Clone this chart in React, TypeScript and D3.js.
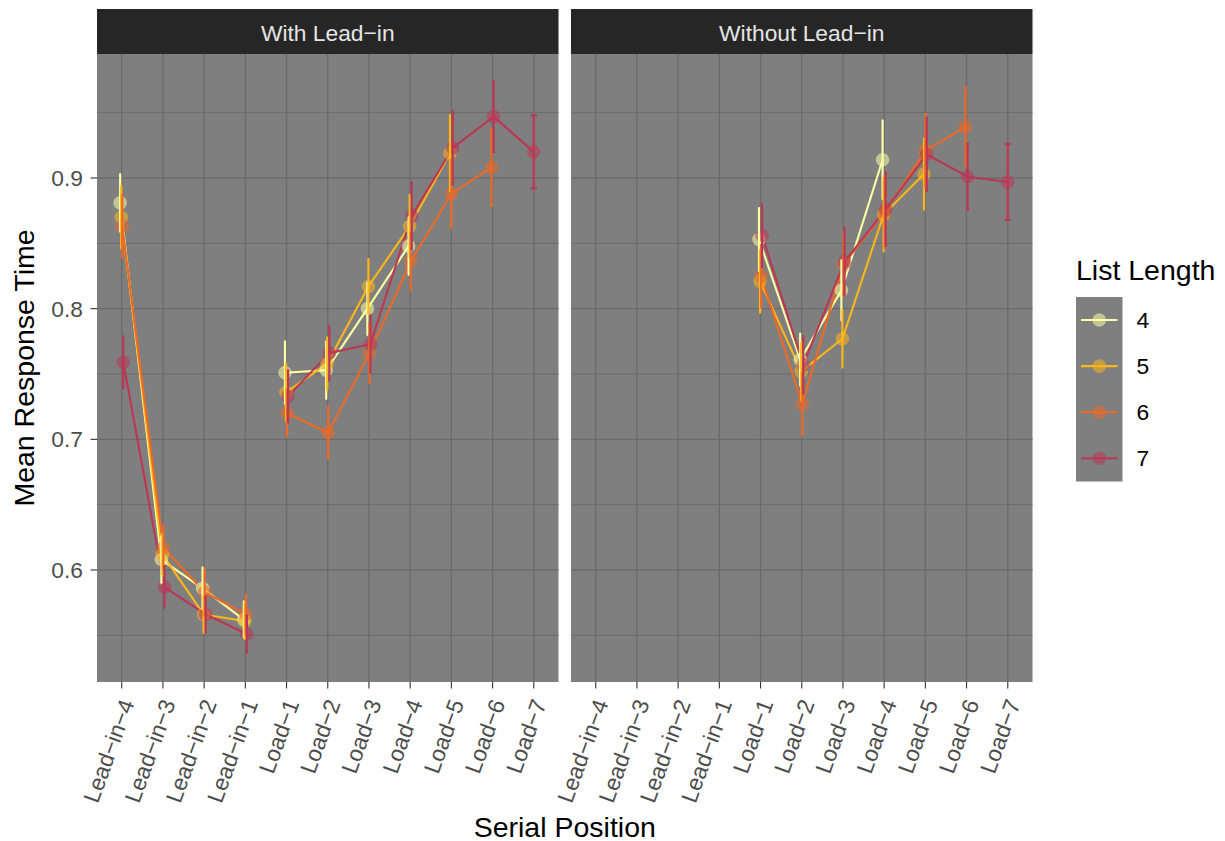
import React from "react";
import * as d3 from "d3";

// ---------- data ----------
const positions = [
  "Lead-in-4", "Lead-in-3", "Lead-in-2", "Lead-in-1",
  "Load-1", "Load-2", "Load-3", "Load-4", "Load-5", "Load-6", "Load-7",
];
const leadInPositions = ["Lead-in-4", "Lead-in-3", "Lead-in-2", "Lead-in-1"];
const loadPositions = ["Load-1", "Load-2", "Load-3", "Load-4", "Load-5", "Load-6", "Load-7"];
const listLengths = [4, 5, 6, 7];
const panelTitles = ["With Lead-in", "Without Lead-in"];
const yMajorTicks = [0.6, 0.7, 0.8, 0.9];
const yMinorTicks = [0.55, 0.65, 0.75, 0.85, 0.95];

// With Lead-in: lead-in means / SE (rows = list length 4,5,6,7)
const withLeadInLeadMean = [
  [0.881, 0.608, 0.586, 0.562],
  [0.870, 0.612, 0.566, 0.561],
  [0.863, 0.617, 0.583, 0.566],
  [0.759, 0.587, 0.566, 0.551],
];
const withLeadInLeadSE = [
  [0.022, 0.018, 0.016, 0.014],
  [0.024, 0.016, 0.014, 0.014],
  [0.024, 0.017, 0.018, 0.015],
  [0.020, 0.016, 0.014, 0.0145],
];
// With Lead-in: load means / SE
const withLeadInLoadMean = [
  [0.751, 0.753, 0.800, 0.848],
  [0.736, 0.758, 0.817, 0.863, 0.919],
  [0.720, 0.705, 0.766, 0.836, 0.888, 0.908],
  [0.733, 0.766, 0.773, 0.871, 0.923, 0.947, 0.920],
];
const withLeadInLoadSE = [
  [0.024, 0.022, 0.020, 0.022],
  [0.022, 0.020, 0.021, 0.024, 0.029],
  [0.018, 0.020, 0.023, 0.022, 0.026, 0.029],
  [0.020, 0.021, 0.022, 0.026, 0.028, 0.027, 0.028],
];
// Without Lead-in: load means / SE
const withoutLeadInLoadMean = [
  [0.853, 0.761, 0.814, 0.914],
  [0.821, 0.752, 0.777, 0.872, 0.903],
  [0.825, 0.727, 0.834, 0.874, 0.921, 0.939],
  [0.856, 0.757, 0.836, 0.876, 0.918, 0.901, 0.897],
];
const withoutLeadInLoadSE = [
  [0.024, 0.020, 0.023, 0.030],
  [0.024, 0.022, 0.022, 0.028, 0.027],
  [0.024, 0.024, 0.024, 0.028, 0.028, 0.030],
  [0.024, 0.022, 0.026, 0.028, 0.028, 0.025, 0.029],
];

// ---------- layout ----------
const W = 1225;
const H = 841;
const panelTop = 54;
const panelBottom = 682;
const panelW = 461.5;
const panelX = [97, 571];
const stripTop = 9;
const FONT = "'Liberation Sans', Arial, Helvetica, sans-serif";

const colorOf = (i: number) => d3.interpolateInferno(1 - i / 6);

type Pt = { pos: string; mean: number; se: number; li: number };
type Seg = { li: number; pts: Pt[] };

function buildSegments(leadMean: number[][] | null, leadSE: number[][] | null, loadMean: number[][], loadSE: number[][]): Seg[] {
  const segs: Seg[] = [];
  listLengths.forEach((_, li) => {
    if (leadMean && leadSE) {
      segs.push({
        li,
        pts: leadInPositions.map((p, k) => ({ pos: p, mean: leadMean[li][k], se: leadSE[li][k], li })),
      });
    }
    segs.push({
      li,
      pts: loadMean[li].map((m, k) => ({ pos: loadPositions[k], mean: m, se: loadSE[li][k], li })),
    });
  });
  return segs;
}

const panelSegments: Seg[][] = [
  buildSegments(withLeadInLeadMean, withLeadInLeadSE, withLeadInLoadMean, withLeadInLoadSE),
  buildSegments(null, null, withoutLeadInLoadMean, withoutLeadInLoadSE),
];

export default function App() {
  const y = d3.scaleLinear().domain([0.5143, 0.9949]).range([panelBottom, panelTop]);
  const x = d3.scalePoint<string>().domain(positions).range([0, panelW]).padding(0.6);
  const step = x.step();
  const dodgeW = step * 0.1;
  const capW = step * 0.15;

  const line = d3.line<{ x: number; y: number }>().x((d) => d.x).y((d) => d.y);

  return (
    <svg width={W} height={H} style={{ position: "absolute", left: 0, top: 0, background: "#fff" }} fontFamily={FONT}>
      {panelSegments.map((segs, pi) => {
        const x0 = panelX[pi];
        const allPts = segs.flatMap((s) => s.pts);
        const groupsAt = (pos: string) =>
          allPts.filter((p) => p.pos === pos).map((p) => p.li).sort((a, b) => a - b);
        const px = (p: Pt) => {
          const g = groupsAt(p.pos);
          const n = g.length;
          const idx = g.indexOf(p.li);
          return x0 + (x(p.pos) as number) + dodgeW * ((idx + 0.5) / n - 0.5);
        };
        const nAt = (p: Pt) => groupsAt(p.pos).length;
        return (
          <g key={pi}>
            <rect x={x0} y={panelTop} width={panelW} height={panelBottom - panelTop} fill="#7F7F7F" />
            {yMinorTicks.map((t) => (
              <line key={"mi" + t} x1={x0} x2={x0 + panelW} y1={y(t)} y2={y(t)} stroke="#6B6B6B" strokeWidth={1.0} />
            ))}
            {yMajorTicks.map((t) => (
              <line key={"ma" + t} x1={x0} x2={x0 + panelW} y1={y(t)} y2={y(t)} stroke="#6B6B6B" strokeWidth={1.3} />
            ))}
            {positions.map((p) => (
              <line key={"vx" + p} x1={x0 + (x(p) as number)} x2={x0 + (x(p) as number)} y1={panelTop} y2={panelBottom} stroke="#6B6B6B" strokeWidth={1.3} />
            ))}
            {/* strip */}
            <rect x={x0} y={stripTop} width={panelW} height={panelTop - stripTop} fill="#262626" />
            <text x={x0 + panelW / 2} y={(stripTop + panelTop) / 2 + 1} textAnchor="middle" dominantBaseline="central" fontSize={22.8} fill="#E5E5E5">
              {panelTitles[pi].replace(/-/g, "\u2212")}
            </text>
            {/* lines */}
            {segs.map((s, si) => (
              <path key={"l" + si} d={line(s.pts.map((p) => ({ x: px(p), y: y(p.mean) }))) || ""} fill="none" stroke={colorOf(s.li)} strokeWidth={2.1} strokeLinejoin="round" />
            ))}
            {/* points */}
            {segs.map((s, si) =>
              s.pts.map((p, k) => (
                <circle key={"p" + si + "-" + k} cx={px(p)} cy={y(p.mean)} r={6.8} fill={colorOf(s.li)} fillOpacity={0.55} />
              ))
            )}
            {/* error bars */}
            {segs.map((s, si) =>
              s.pts.map((p, k) => {
                const cx = px(p);
                const hw = capW / nAt(p) / 2;
                const c = colorOf(s.li);
                return (
                  <g key={"e" + si + "-" + k} stroke={c} strokeWidth={2.2}>
                    <line x1={cx} x2={cx} y1={y(p.mean - p.se)} y2={y(p.mean + p.se)} />
                    <line x1={cx - hw} x2={cx + hw} y1={y(p.mean - p.se)} y2={y(p.mean - p.se)} />
                    <line x1={cx - hw} x2={cx + hw} y1={y(p.mean + p.se)} y2={y(p.mean + p.se)} />
                  </g>
                );
              })
            )}
            {/* x axis */}
            {positions.map((p) => {
              const tx = x0 + (x(p) as number);
              return (
                <g key={"xt" + p}>
                  <line x1={tx} x2={tx} y1={panelBottom} y2={panelBottom + 6.5} stroke="#333333" strokeWidth={1.1} />
                  <text transform={`translate(${tx + 13},${panelBottom + 21}) rotate(-70)`} textAnchor="end" fontSize={22.8} fill="#4D4D4D">
                    {p.replace(/-/g, "\u2212")}
                  </text>
                </g>
              );
            })}
            {/* y axis (left panel only) */}
            {pi === 0 &&
              yMajorTicks.map((t) => (
                <g key={"yt" + t}>
                  <line x1={x0 - 6.5} x2={x0} y1={y(t)} y2={y(t)} stroke="#333333" strokeWidth={1.1} />
                  <text x={x0 - 14} y={y(t)} textAnchor="end" dominantBaseline="central" fontSize={22.8} fill="#4D4D4D">
                    {t.toFixed(1)}
                  </text>
                </g>
              ))}
          </g>
        );
      })}
      {/* axis titles */}
      <text x={(panelX[0] + panelX[1] + panelW) / 2} y={836.5} textAnchor="middle" fontSize={28.5} fill="#000">
        Serial Position
      </text>
      <text transform={`translate(34,${(panelTop + panelBottom) / 2}) rotate(-90)`} textAnchor="middle" fontSize={28.5} fill="#000">
        Mean Response Time
      </text>
      {/* legend */}
      <g>
        <text x={1076} y={279.5} fontSize={28.5} fill="#000">List Length</text>
        <rect x={1076} y={297} width={46.5} height={184.5} fill="#7F7F7F" />
        {listLengths.map((L, i) => {
          const cy = 320 + i * 46.1;
          const c = colorOf(i);
          return (
            <g key={"lg" + L}>
              <line x1={1081} x2={1117.5} y1={cy} y2={cy} stroke={c} strokeWidth={2.1} />
              <circle cx={1099.3} cy={cy} r={6.8} fill={c} fillOpacity={0.55} />
              <text x={1136.5} y={cy} dominantBaseline="central" fontSize={22.8} fill="#000">{L}</text>
            </g>
          );
        })}
      </g>
    </svg>
  );
}
